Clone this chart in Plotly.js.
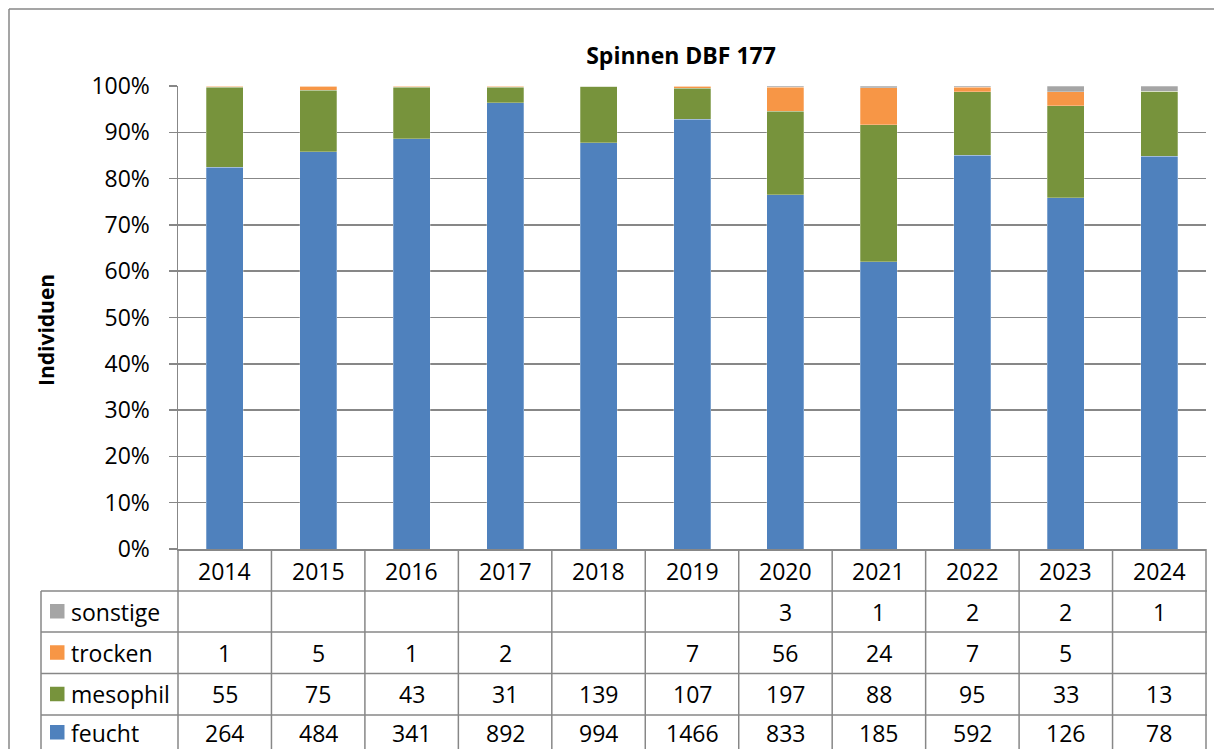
<!DOCTYPE html>
<html>
<head>
<meta charset="utf-8">
<script src="https://cdn.plot.ly/plotly-3.0.1.min.js"></script>
<style>
  html, body { margin: 0; padding: 0; background: #fff; }
  #chart { width: 1214px; height: 749px; }
</style>
</head>
<body>
<div id="chart"></div>
<script>
// ---- Data ----
const categories = ['2014', '2015', '2016', '2017', '2018', '2019', '2020', '2021', '2022', '2023', '2024'];
const feucht   = [264, 484, 341, 892, 994, 1466, 833, 185, 592, 126, 78];
const mesophil = [55, 75, 43, 31, 139, 107, 197, 88, 95, 33, 13];
const trocken  = [1, 5, 1, 2, null, 7, 56, 24, 7, 5, null];
const sonstige = [null, null, null, null, null, null, 3, 1, 2, 2, 1];
const seriesNames = ['feucht', 'mesophil', 'trocken', 'sonstige'];
const yTickVals = [0, 10, 20, 30, 40, 50, 60, 70, 80, 90, 100];
const yTickText = ['0%', '10%', '20%', '30%', '40%', '50%', '60%', '70%', '80%', '90%', '100%'];
const chartTitle = 'Spinnen DBF 177';
const yTitle = 'Individuen';

// ---- Style ----
const colors = { feucht: '#4F81BD', mesophil: '#77933C', trocken: '#F79646', sonstige: '#A5A5A5' };
const lineCol = '#878787';
const FONT = '"Open Sans", "Noto Sans", sans-serif';
const W = 1214, H = 749;
const M = { l: 178, r: 8, t: 86, b: 200 };
const plotW = W - M.l - M.r, plotH = H - M.t - M.b;
const bottomPx = H - M.b;
const xp = px => (px - M.l) / plotW;      // pixel -> paper x
const yp = py => (bottomPx - py) / plotH; // pixel -> paper y

const seriesData = { feucht, mesophil, trocken, sonstige };

const traces = seriesNames.map(name => ({
  type: 'bar',
  name: name,
  x: categories,
  y: seriesData[name].map(v => v == null ? 0 : v),
  marker: { color: colors[name], line: { width: 0.6, color: 'rgba(255,255,255,0.45)' } },
  hoverinfo: 'x+y+name'
}));

// ---- Table geometry (pixels) ----
const headerTop = bottomPx, headerBot = 591;
const rowBounds = [591, 632, 673.5, 715, 756]; // sonstige, trocken, mesophil, feucht
const tableRows = ['sonstige', 'trocken', 'mesophil', 'feucht'];
const labelLeft = 41, tableRight = 1207;
const n = categories.length;
const colCenter = i => (i + 0.5) / n; // paper x of category column centre

const shapes = [];
const annotations = [];

// outer chart border
shapes.push({ type: 'line', xref: 'paper', yref: 'paper', x0: xp(9), x1: xp(1230), y0: yp(9), y1: yp(9), line: { color: lineCol, width: 1.5 } });
shapes.push({ type: 'line', xref: 'paper', yref: 'paper', x0: xp(9), x1: xp(9), y0: yp(9), y1: yp(770), line: { color: lineCol, width: 1.5 } });

// table horizontal lines
rowBounds.slice(0, 4).forEach(py => {
  shapes.push({ type: 'line', xref: 'paper', yref: 'paper', x0: xp(labelLeft), x1: xp(tableRight), y0: yp(py), y1: yp(py), line: { color: lineCol, width: 1.5 } });
});
// left border of label column
shapes.push({ type: 'line', xref: 'paper', yref: 'paper', x0: xp(labelLeft), x1: xp(labelLeft), y0: yp(headerBot), y1: yp(770), line: { color: lineCol, width: 1.5 } });
// column lines
for (let k = 0; k <= n; k++) {
  const x = k / n;
  shapes.push({ type: 'line', xref: 'paper', yref: 'paper', x0: x, x1: x, y0: 0, y1: yp(770), line: { color: lineCol, width: 1.5 } });
}

const fs = 23;
// header years
categories.forEach((c, i) => {
  annotations.push({ x: colCenter(i), xref: 'paper', y: yp((headerTop + headerBot) / 2 + 1), yref: 'paper', text: c, showarrow: false, yanchor: 'middle', xanchor: 'center', font: { family: FONT, size: fs, color: '#000' } });
});
// rows
tableRows.forEach((name, r) => {
  const last = r === tableRows.length - 1;
  // last row is cut by the picture edge: keep its text just inside
  const cy = last ? Math.min((rowBounds[r] + rowBounds[r + 1]) / 2, H - 16.5) : (rowBounds[r] + rowBounds[r + 1]) / 2;
  const boxH = last ? 24 : null;
  shapes.push({ type: 'rect', xref: 'paper', yref: 'paper', x0: xp(50), x1: xp(64.5), y0: yp(cy - 7.5), y1: yp(cy + 7), fillcolor: colors[name], line: { width: 0 } });
  annotations.push({ x: xp(70), xref: 'paper', y: yp(cy), yref: 'paper', text: name, showarrow: false, xanchor: 'left', yanchor: 'middle', height: boxH, borderpad: 0, font: { family: FONT, size: fs, color: '#000' } });
  seriesData[name].forEach((v, i) => {
    if (v == null) return;
    annotations.push({ x: colCenter(i), xref: 'paper', y: yp(cy), yref: 'paper', text: String(v), showarrow: false, xanchor: 'center', yanchor: 'middle', height: boxH, borderpad: 0, font: { family: FONT, size: fs, color: '#000' } });
  });
});

// y axis title
annotations.push({ x: xp(46), xref: 'paper', y: yp(330), yref: 'paper', text: '<b>' + yTitle + '</b>', textangle: -90, showarrow: false, xanchor: 'center', yanchor: 'middle', font: { family: FONT, size: 21, color: '#000' } });

const layout = {
  width: W, height: H, autosize: false,
  margin: M,
  paper_bgcolor: '#fff', plot_bgcolor: '#fff',
  barmode: 'stack', barnorm: 'percent', bargap: 0.604,
  showlegend: false,
  font: { family: FONT, color: '#000' },
  title: { text: '<b>' + chartTitle + '</b>', x: 681 / W, xref: 'container', xanchor: 'center', y: 1 - 56 / H, yref: 'container', yanchor: 'middle', font: { family: FONT, size: 23, color: '#000' } },
  xaxis: {
    type: 'category', range: [-0.5, n - 0.5], showticklabels: false, ticks: '',
    showgrid: false, zeroline: false, showline: true, linecolor: lineCol, linewidth: 1.5, fixedrange: true
  },
  yaxis: {
    range: [0, 100], tickmode: 'array', tickvals: yTickVals, ticktext: yTickText, showgrid: true, gridcolor: lineCol, gridwidth: 1.5,
    zeroline: false, showline: true, linecolor: lineCol, linewidth: 1.5, ticks: 'outside', ticklen: 8,
    tickcolor: lineCol, tickwidth: 1.5, ticklabelstandoff: 14,
    tickfont: { family: FONT, size: fs, color: '#000' }, fixedrange: true
  },
  shapes: shapes,
  annotations: annotations
};

Plotly.newPlot('chart', traces, layout, { displayModeBar: false, staticPlot: true });
</script>
</body>
</html>
